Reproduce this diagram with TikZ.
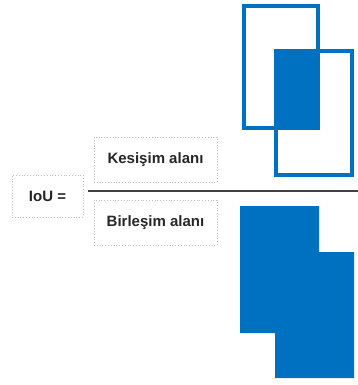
\documentclass[tikz,border=0pt]{standalone}
\usepackage{fontspec}
\setmainfont{Liberation Sans}
\definecolor{boxblue}{HTML}{0070C0}
\definecolor{txt}{HTML}{262626}
\definecolor{frame}{HTML}{BFBFBF}
\definecolor{bar}{HTML}{404040}
\begin{document}
\begin{tikzpicture}[x=1pt,y=-1pt,
  label box/.style={draw=frame, dotted, line width=0.8pt, inner sep=0pt,
    text=txt, font=\fontsize{15}{18}\selectfont\bfseries},
  outline/.style={draw=boxblue, line width=4pt},
  solid fill/.style={fill=boxblue}]
\useasboundingbox (0,0) rectangle (358,385);
% fraction terms
\node[label box, minimum width=71pt, minimum height=42pt] (iou) at (47.5,196) {IoU =};
\node[label box, minimum width=123pt, minimum height=45pt] (inter) at (155.5,159.5) {Kesişim alanı};
\node[label box, minimum width=123pt, minimum height=45pt] (union) at (155.5,222.5) {Birleşim alanı};
% fraction bar
\draw[bar, line width=2pt] (88,191) -- (358,191);
% intersection: two overlapping boxes, overlap filled
\fill[solid fill] (276,51) rectangle (318,128);
\draw[outline] (244,6) rectangle (318,128);
\draw[outline] (276,51) rectangle (352,175);
% union: merged silhouette
\fill[solid fill] (240,206) -- (319,206) -- (319,252) -- (354,252) -- (354,378)
  -- (275,378) -- (275,333) -- (240,333) -- cycle;
\end{tikzpicture}
\end{document}
